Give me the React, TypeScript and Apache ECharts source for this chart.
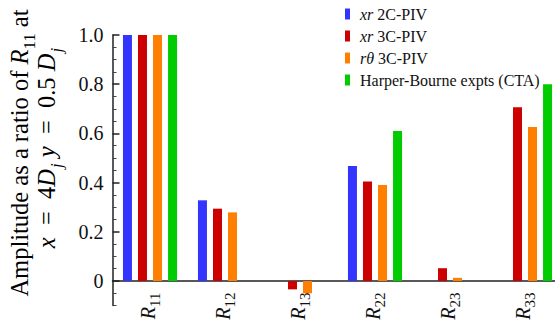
import React, { useEffect, useRef } from "react";
import * as echarts from "echarts";

// Correlation components shown along the x axis
const components = ["11", "12", "13", "22", "23", "33"];

// Amplitude as a ratio of R11 for each data set
const xr2C = [1.0, 0.328, null, 0.467, null, null];
const xr3C = [1.0, 0.294, -0.034, 0.404, 0.052, 0.706];
const rTheta3C = [1.0, 0.279, -0.05, 0.39, 0.013, 0.626];
const harperBourne = [1.0, null, null, 0.61, null, 0.8];

const seriesNames = ["xr 2C-PIV", "xr 3C-PIV", "rθ 3C-PIV", "Harper-Bourne expts (CTA)"];
const seriesColors = ["#3434ff", "#cc0000", "#ff8000", "#00cc00"];

const yLabelValues = [0, 0.2, 0.4, 0.6, 0.8, 1.0];

const FONT = "Liberation Serif";

export default function App() {
  const ref = useRef<HTMLDivElement>(null);

  useEffect(() => {
    if (!ref.current) return;
    const chart = echarts.init(ref.current, null, { renderer: "svg" });

    // minor tick positions every 0.05 between the labelled values
    const minorValues: number[] = [];
    for (let k = -2; k <= 20; k++) {
      if (k % 4 !== 0) minorValues.push(Math.round(k * 5) / 100);
    }

    const data = [xr2C, xr3C, rTheta3C, harperBourne];

    const legendRich = {
      i: { fontFamily: FONT, fontStyle: "italic", fontSize: 16, color: "#111" },
      n: { fontFamily: FONT, fontSize: 16, color: "#111" },
    };

    const titleRich = {
      n: { fontFamily: FONT, fontSize: 24.5, color: "#111", verticalAlign: "bottom", padding: [0, 0, 6, 0] },
      i: { fontFamily: FONT, fontSize: 24.5, fontStyle: "italic", color: "#111", verticalAlign: "bottom", padding: [0, 0, 6, 0] },
      s: { fontFamily: FONT, fontSize: 17, color: "#111", verticalAlign: "bottom", padding: [0, 0, 0, 0] },
      si: { fontFamily: FONT, fontSize: 17, fontStyle: "italic", color: "#111", verticalAlign: "bottom", padding: [0, 0, 0, 1] },
    };

    chart.setOption({
      animation: false,
      backgroundColor: "#fff",
      textStyle: { fontFamily: FONT },
      grid: { left: 112.5, right: -7.5, top: 35, bottom: 21.4, containLabel: false, outerBoundsMode: "none" },
      legend: {
        orient: "vertical",
        left: 340,
        top: 1,
        icon: "rect",
        itemWidth: 5,
        itemHeight: 11,
        itemGap: 6,
        selectedMode: false,
        data: seriesNames,
        formatter: (name: string) => {
          const parts = name.split(" ");
          if (parts[0] === "xr" || parts[0] === "rθ") {
            return `{i|${parts[0]}}{n| ${parts.slice(1).join(" ")}}`;
          }
          return `{n|${name}}`;
        },
        textStyle: { fontFamily: FONT, fontSize: 16, lineHeight: 11, padding: [0, 0, 0, 5], rich: legendRich },
      },
      xAxis: {
        type: "category",
        data: components,
        axisLine: { onZero: true, lineStyle: { color: "#222", width: 1.5 } },
        axisTick: { alignWithLabel: true, length: 5, lineStyle: { color: "#222", width: 1.5 } },
        axisLabel: {
          rotate: 90,
          // labels sit at the grid's bottom edge; pull them up under the zero line
          margin: -13,
          fontFamily: FONT,
          formatter: (v: string) => `{i|R}{s|${v}}`,
          rich: {
            i: { fontFamily: FONT, fontSize: 20, fontStyle: "italic", color: "#111", verticalAlign: "bottom", padding: [0, 0, 4, 0] },
            s: { fontFamily: FONT, fontSize: 15, color: "#111", verticalAlign: "bottom" },
          },
        },
        splitLine: { show: false },
      },
      yAxis: [
        {
          type: "value",
          min: -0.1,
          max: 1.0,
          axisLine: { show: true, onZero: false, lineStyle: { color: "#222", width: 1.5 } },
          axisTick: { show: true, inside: true, length: 7, customValues: yLabelValues, lineStyle: { color: "#222", width: 1.5 } },
          axisLabel: {
            customValues: yLabelValues,
            margin: 9,
            fontFamily: FONT,
            fontSize: 20,
            color: "#111",
            formatter: (v: number) => (v === 0 ? "0" : v.toFixed(1)),
          },
          splitLine: { show: false },
        },
        {
          type: "value",
          min: -0.1,
          max: 1.0,
          position: "left",
          axisLine: { show: false },
          axisTick: { show: true, inside: true, length: 4, customValues: minorValues, lineStyle: { color: "#444", width: 1 } },
          axisLabel: { show: false },
          splitLine: { show: false },
        },
      ],
      series: data.map((values, idx) => ({
        name: seriesNames[idx],
        type: "bar",
        data: values,
        barWidth: 9,
        barGap: "67%",
        itemStyle: { color: seriesColors[idx] },
      })),
      graphic: [
        {
          type: "text",
          x: 22,
          y: 153,
          rotation: Math.PI / 2,
          style: {
            text: "{n|Amplitude as a ratio of }{i|R}{s|11}{n| at}",
            rich: titleRich,
            fontFamily: FONT,
            align: "center",
            verticalAlign: "middle",
          },
        },
        {
          type: "text",
          x: 49,
          y: 148,
          rotation: Math.PI / 2,
          style: {
            text: "{i|x}{n|  =  4}{i|D}{si|j}{n| }{i|y}{n|  =  0.5 }{i|D}{si|j}",
            rich: titleRich,
            fontFamily: FONT,
            align: "center",
            verticalAlign: "middle",
          },
        },
      ],
    });

    return () => chart.dispose();
  }, []);

  return <div ref={ref} style={{ width: 555, height: 327, position: "absolute", left: 0, top: 0 }} />;
}
